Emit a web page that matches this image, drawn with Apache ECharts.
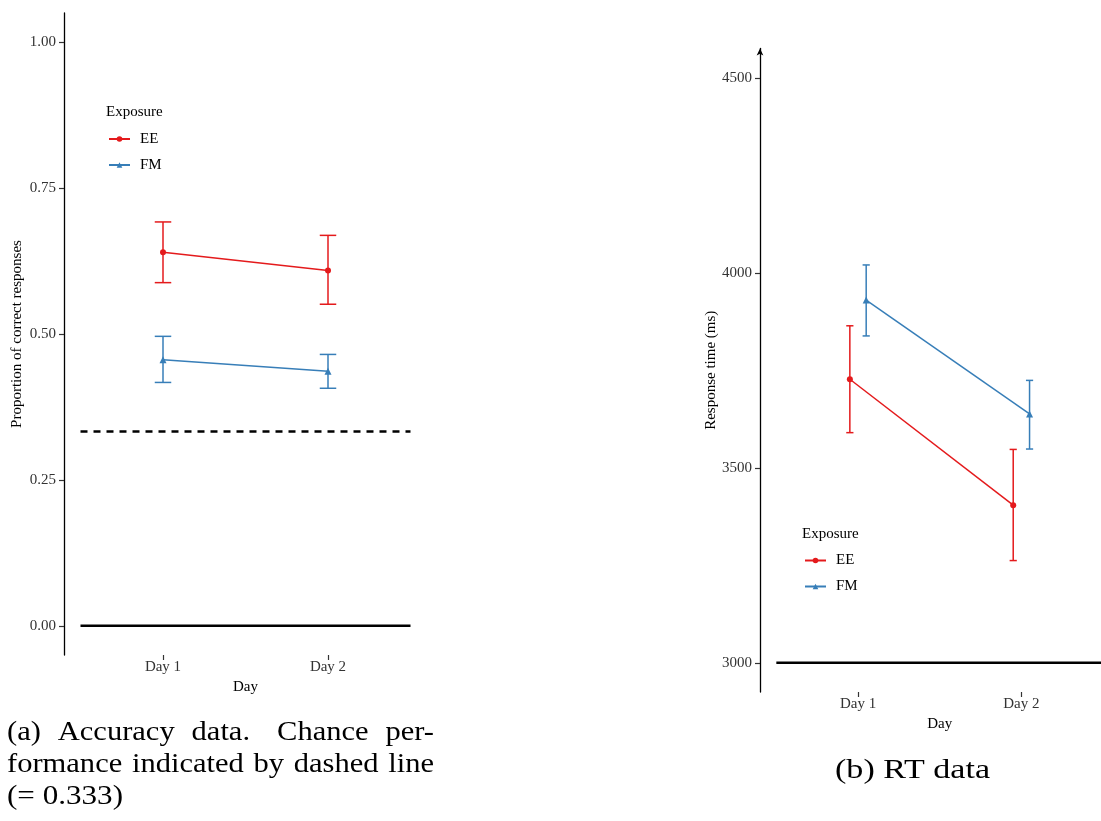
<!DOCTYPE html>
<html>
<head>
<meta charset="utf-8">
<script src="https://cdn.jsdelivr.net/npm/echarts@6/dist/echarts.min.js"></script>
<style>
  html, body { margin: 0; padding: 0; background: #fff; }
  #chart { width: 1101px; height: 821px; }
</style>
</head>
<body>
<div id="chart"></div>
<script>
// ---- data ----
const days = ['Day 1', 'Day 2'];
const groups = ['EE', 'FM'];

// (a) accuracy: mean and interval bounds per day
const accEE = [0.640, 0.609];
const accEELow = [0.588, 0.551];
const accEEHigh = [0.692, 0.669];
const accFM = [0.456, 0.436];
const accFMLow = [0.417, 0.407];
const accFMHigh = [0.496, 0.465];
const chanceLevel = 0.333;
const accTicks = [0, 0.25, 0.5, 0.75, 1];

// (b) response time in ms: mean and interval bounds per day
const rtEE = [3727, 3404];
const rtEELow = [3590, 3262];
const rtEEHigh = [3864, 3547];
const rtFM = [3930, 3638];
const rtFMLow = [3838, 3548];
const rtFMHigh = [4020, 3724];
const rtBase = 3000;
const rtTicks = [3000, 3500, 4000, 4500];

const captionA = ['(a) Accuracy data.  Chance per-', 'formance indicated by dashed line', '(= 0.333)'];
const captionB = '(b) RT data';

// ---- styling ----
const RED = '#E41A1C';
const BLUE = '#377EB8';
const SERIF = "'Liberation Serif', 'DejaVu Serif', serif";
const dayPos = days.map((d, i) => i + 1);   // categorical positions 1, 2
const dodge = 0.05;                           // RT panel horizontal dodge

function lineSeries(name, axis, xs, ys, color, symbol, size) {
  return {
    type: 'line', name, xAxisIndex: axis, yAxisIndex: axis,
    data: xs.map((x, i) => [x, ys[i]]),
    symbol, symbolSize: size, showSymbol: true,
    lineStyle: { color, width: 1.5 },
    itemStyle: { color },
    z: 4, silent: true, animation: false
  };
}

function errorBars(name, axis, xs, lows, highs, halfWidth, color) {
  return {
    type: 'custom', name: name + ' interval', xAxisIndex: axis, yAxisIndex: axis,
    data: xs.map((x, i) => [x, lows[i], highs[i]]),
    encode: { x: 0, y: [1, 2] },
    renderItem(params, api) {
      const x = api.value(0);
      const lo = api.coord([x, api.value(1)]);
      const hi = api.coord([x, api.value(2)]);
      const l = api.coord([x - halfWidth, api.value(1)])[0];
      const r = api.coord([x + halfWidth, api.value(1)])[0];
      const style = { stroke: color, lineWidth: 1.5, fill: null };
      return {
        type: 'group',
        children: [
          { type: 'line', shape: { x1: lo[0], y1: lo[1], x2: hi[0], y2: hi[1] }, style },
          { type: 'line', shape: { x1: l, y1: lo[1], x2: r, y2: lo[1] }, style },
          { type: 'line', shape: { x1: l, y1: hi[1], x2: r, y2: hi[1] }, style }
        ]
      };
    },
    z: 3, silent: true, animation: false
  };
}

function refLine(axis, y, dashed) {
  return {
    type: 'line', name: 'ref', xAxisIndex: axis, yAxisIndex: axis,
    data: [[0.5, y], [2.5, y]],
    symbol: 'none',
    lineStyle: { color: '#000', width: 2.5, type: dashed ? [7, 6] : 'solid' },
    z: 2, silent: true, animation: false
  };
}

function xAxisFor(gridIndex) {
  return {
    type: 'value', gridIndex, min: 0.4, max: 2.6,
    axisLine: { show: false, onZero: false },
    axisTick: { show: true, customValues: dayPos, length: 5, lineStyle: { color: '#333', width: 1.2 } },
    axisLabel: {
      customValues: dayPos, formatter: v => days[Math.round(v) - 1],
      margin: 5, color: '#333', fontFamily: SERIF, fontSize: 15
    },
    splitLine: { show: false },
    name: 'Day', nameLocation: 'middle', nameGap: 23,
    nameTextStyle: { color: '#000', fontFamily: SERIF, fontSize: 15 }
  };
}

function yAxisFor(gridIndex, min, max, ticks, fmt, title, arrow) {
  return {
    type: 'value', gridIndex, min, max,
    axisLine: {
      show: true, onZero: false, lineStyle: { color: '#000', width: 1.3 },
      symbol: arrow ? ['none', 'arrow'] : ['none', 'none'], symbolSize: [5, 7]
    },
    axisTick: { show: true, customValues: ticks, length: 5, lineStyle: { color: '#333', width: 1.2 } },
    axisLabel: { customValues: ticks, formatter: fmt, margin: 8, color: '#333', fontFamily: SERIF, fontSize: 15 },
    splitLine: { show: false },
    name: title, nameLocation: 'middle', nameRotate: 90, nameGap: 39,
    nameTextStyle: { color: '#000', fontFamily: SERIF, fontSize: 15 }
  };
}

function legendAt(left, top) {
  return {
    data: groups, orient: 'vertical', left, top, padding: 0,
    itemWidth: 21, itemHeight: 7, itemGap: 11,
    selectedMode: false,
    textStyle: { color: '#000', fontFamily: SERIF, fontSize: 15, padding: [0, 0, 0, 5] }
  };
}

// ---- captions (justified like typeset figure text) ----
const capFontSize = 28;
const capFont = capFontSize + 'px ' + SERIF;
const capStretch = 1.09;
const measureCtx = document.createElement('canvas').getContext('2d');
measureCtx.font = capFont;

function capText(text, x, mid, sx) {
  return { type: 'text', x, y: mid, scaleX: sx, silent: true,
    style: { text, font: capFont, fill: '#000', align: 'left', verticalAlign: 'middle' } };
}

// justified line: words are spread so the line fills the given width
function justifiedLine(text, x0, baseline, width) {
  const mid = baseline - 0.35 * capFontSize;
  const words = text.split(/\s+/);
  const widths = words.map(w => measureCtx.measureText(w).width * capStretch);
  const weights = words.slice(0, -1).map(w => (/\.$/.test(w) ? 1.6 : 1));
  const totalW = widths.reduce((a, b) => a + b, 0);
  const unit = (width - totalW) / weights.reduce((a, b) => a + b, 0);
  const out = [];
  let x = x0;
  words.forEach((w, i) => {
    out.push(capText(w, x, mid, capStretch));
    x += widths[i] + (i < weights.length ? weights[i] * unit : 0);
  });
  return out;
}

// single run of text set to a given width
function fittedLine(text, x0, baseline, width) {
  const mid = baseline - 0.35 * capFontSize;
  return [capText(text, x0, mid, width / measureCtx.measureText(text).width)];
}

const legendTitle = '15px ' + SERIF;
const graphics = [
  { type: 'text', x: 106, y: 112, silent: true,
    style: { text: 'Exposure', font: legendTitle, fill: '#000', align: 'left', verticalAlign: 'middle' } },
  { type: 'text', x: 802, y: 534, silent: true,
    style: { text: 'Exposure', font: legendTitle, fill: '#000', align: 'left', verticalAlign: 'middle' } },
  ...justifiedLine(captionA[0], 7, 742, 427),
  ...justifiedLine(captionA[1], 7, 774.5, 427),
  ...fittedLine(captionA[2], 7, 806.5, 116),
  ...fittedLine(captionB, 835, 780, 155)
];

const chart = echarts.init(document.getElementById('chart'), null, { renderer: 'canvas' });
chart.setOption({
  backgroundColor: '#fff',
  animation: false,
  grid: [
    { left: 64, top: 13, width: 363, height: 642, outerBoundsMode: 'none' },
    { left: 760, top: 48.5, width: 359.4, height: 643.5, outerBoundsMode: 'none' }
  ],
  xAxis: [xAxisFor(0), xAxisFor(1)],
  yAxis: [
    yAxisFor(0, -0.05, 1.05, accTicks, v => v.toFixed(2), 'Proportion of correct responses', false),
    yAxisFor(1, 2925, 4575, rtTicks, v => String(v), 'Response time (ms)', true)
  ],
  legend: [legendAt(108, 131.5), legendAt(804, 553)],
  series: [
    lineSeries('EE', 0, dayPos, accEE, RED, 'circle', 6),
    lineSeries('FM', 0, dayPos, accFM, BLUE, 'triangle', 7),
    lineSeries('EE', 1, dayPos.map(x => x - dodge), rtEE, RED, 'circle', 6),
    lineSeries('FM', 1, dayPos.map(x => x + dodge), rtFM, BLUE, 'triangle', 7),
    errorBars('EE', 0, dayPos, accEELow, accEEHigh, 0.05, RED),
    errorBars('FM', 0, dayPos, accFMLow, accFMHigh, 0.05, BLUE),
    errorBars('EE', 1, dayPos.map(x => x - dodge), rtEELow, rtEEHigh, 0.022, RED),
    errorBars('FM', 1, dayPos.map(x => x + dodge), rtFMLow, rtFMHigh, 0.022, BLUE),
    refLine(0, 0, false),
    refLine(0, chanceLevel, true),
    refLine(1, rtBase, false)
  ],
  graphic: graphics
});
</script>
</body>
</html>
